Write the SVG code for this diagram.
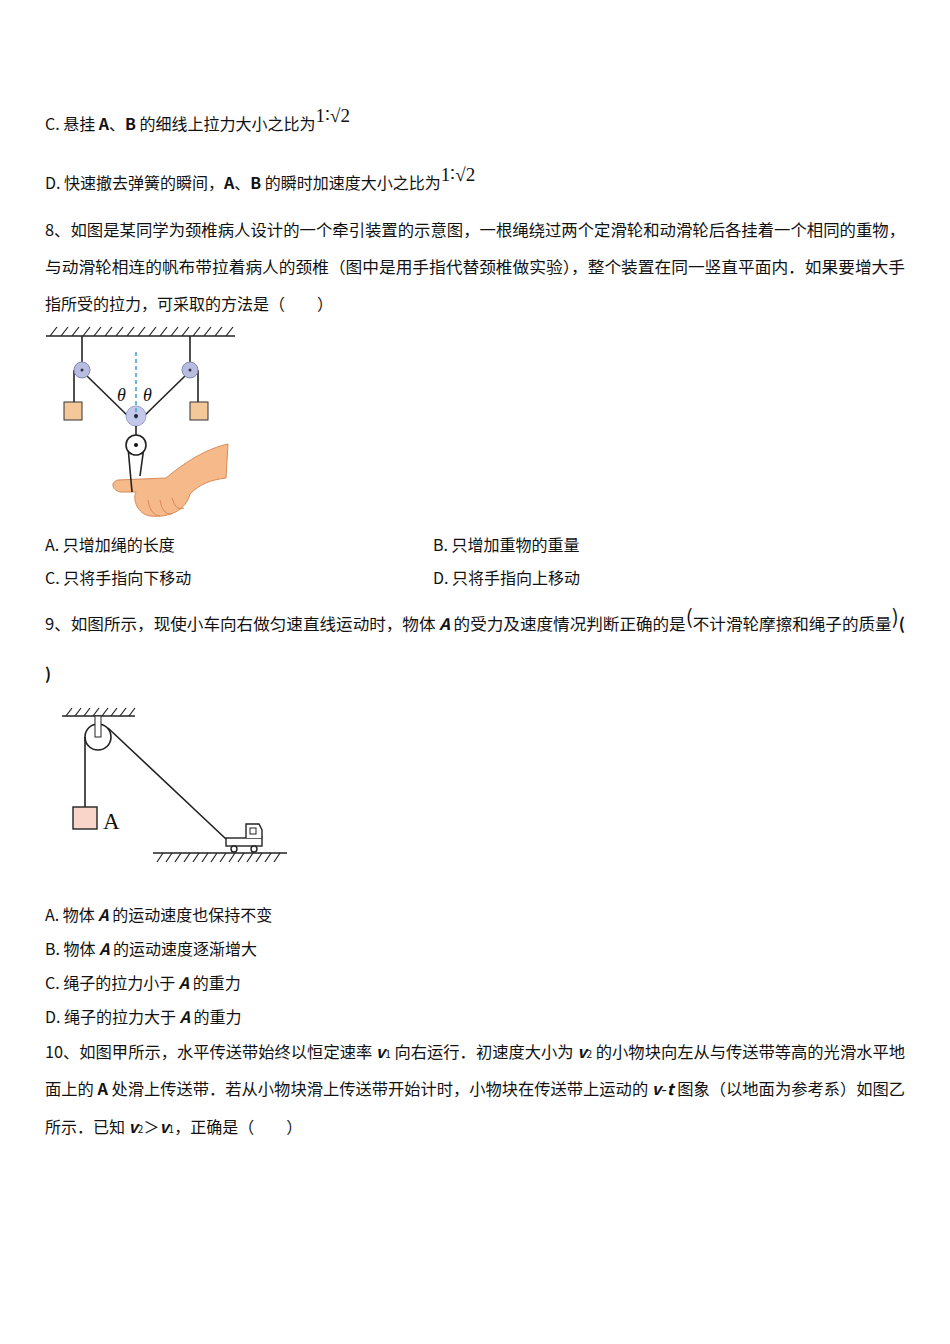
<svg xmlns="http://www.w3.org/2000/svg" width="950" height="1344" viewBox="0 0 950 1344">
<style>
text{font-family:"Noto Sans CJK SC","Liberation Serif",serif;font-size:16px;fill:#111}
.ser{font-family:"Liberation Serif",serif}
.ln{stroke:#222;stroke-width:1.6;fill:none}
.th{stroke:#222;stroke-width:1.2}
</style>
<rect width="950" height="1344" fill="#fff"/>
<g id="text">
<text x="45" y="130">C. 悬挂 <tspan font-weight="bold">A</tspan>、<tspan font-weight="bold">B</tspan> 的细线上拉力大小之比为<tspan class="ser" style="font-size:19px" dy="-8">1∶√2</tspan></text>
<text x="45" y="189">D. 快速撤去弹簧的瞬间，<tspan font-weight="bold">A</tspan>、<tspan font-weight="bold">B</tspan> 的瞬时加速度大小之比为<tspan class="ser" style="font-size:19px" dy="-8">1∶√2</tspan></text>
<text x="45" y="236" textLength="860" lengthAdjust="spacingAndGlyphs">8、如图是某同学为颈椎病人设计的一个牵引装置的示意图，一根绳绕过两个定滑轮和动滑轮后各挂着一个相同的重物，</text>
<text x="45" y="273" textLength="860" lengthAdjust="spacingAndGlyphs">与动滑轮相连的帆布带拉着病人的颈椎（图中是用手指代替颈椎做实验），整个装置在同一竖直平面内．如果要增大手</text>
<text x="45" y="310">指所受的拉力，可采取的方法是（　　）</text>
<text x="45" y="551">A. 只增加绳的长度</text>
<text x="433" y="551">B. 只增加重物的重量</text>
<text x="45" y="584">C. 只将手指向下移动</text>
<text x="433" y="584">D. 只将手指向上移动</text>
<text x="45" y="630" textLength="860" lengthAdjust="spacingAndGlyphs">9、如图所示，现使小车向右做匀速直线运动时，物体 <tspan font-style="italic" font-weight="bold">A</tspan> 的受力及速度情况判断正确的是<tspan style="font-size:20px" dy="-6">(</tspan><tspan dy="6">不计滑轮摩擦和绳子的质量</tspan><tspan style="font-size:20px" dy="-6">)</tspan><tspan font-weight="bold" dy="6">(</tspan></text>
<text x="45" y="680" font-weight="bold">)</text>
<text x="45" y="921">A. 物体 <tspan font-style="italic" font-weight="bold">A</tspan> 的运动速度也保持不变</text>
<text x="45" y="955">B. 物体 <tspan font-style="italic" font-weight="bold">A</tspan> 的运动速度逐渐增大</text>
<text x="45" y="989">C. 绳子的拉力小于 <tspan font-style="italic" font-weight="bold">A</tspan> 的重力</text>
<text x="45" y="1023">D. 绳子的拉力大于 <tspan font-style="italic" font-weight="bold">A</tspan> 的重力</text>
<text x="45" y="1058" textLength="860" lengthAdjust="spacingAndGlyphs">10、如图甲所示，水平传送带始终以恒定速率 <tspan font-style="italic" font-weight="bold">v</tspan><tspan style="font-size:10px">1</tspan> 向右运行．初速度大小为 <tspan font-style="italic" font-weight="bold">v</tspan><tspan style="font-size:10px">2</tspan> 的小物块向左从与传送带等高的光滑水平地</text>
<text x="45" y="1095" textLength="860" lengthAdjust="spacingAndGlyphs">面上的 <tspan font-weight="bold">A</tspan> 处滑上传送带．若从小物块滑上传送带开始计时，小物块在传送带上运动的 <tspan font-style="italic" font-weight="bold">v</tspan>-<tspan font-style="italic" font-weight="bold">t</tspan> 图象（以地面为参考系）如图乙</text>
<text x="45" y="1133">所示．已知 <tspan font-style="italic" font-weight="bold">v</tspan><tspan style="font-size:10px">2</tspan>＞<tspan font-style="italic" font-weight="bold">v</tspan><tspan style="font-size:10px">1</tspan>，正确是（　　）</text>
</g>
<g id="fig8">
<line class="ln" x1="46" y1="336" x2="235" y2="336"/>
<path class="th" d="M50 336l7-9M61 336l7-9M72 336l7-9M83 336l7-9M94 336l7-9M105 336l7-9M116 336l7-9M127 336l7-9M138 336l7-9M149 336l7-9M160 336l7-9M171 336l7-9M182 336l7-9M193 336l7-9M204 336l7-9M215 336l7-9M226 336l7-9"/>
<line class="ln" x1="82" y1="336" x2="82" y2="370"/>
<line class="ln" x1="190" y1="336" x2="190" y2="370"/>
<line class="ln" x1="74" y1="370" x2="74" y2="402"/>
<line class="ln" x1="198" y1="370" x2="198" y2="402"/>
<line class="ln" x1="86" y1="375" x2="130" y2="418"/>
<line class="ln" x1="186" y1="375" x2="142" y2="418"/>
<circle cx="82" cy="370" r="8" fill="#b8bde0" stroke="#8088b8"/>
<circle cx="82" cy="370" r="1.5" fill="#334"/>
<circle cx="190" cy="370" r="8" fill="#b8bde0" stroke="#8088b8"/>
<circle cx="190" cy="370" r="1.5" fill="#334"/>
<rect x="64" y="402" width="18" height="18" fill="#f5c89a" stroke="#333"/>
<rect x="190" y="402" width="18" height="18" fill="#f5c89a" stroke="#333"/>
<circle cx="136" cy="416" r="10" fill="#c4c8ea" stroke="#9aa0cc"/>
<line x1="136" y1="352" x2="136" y2="420" stroke="#3aa0d0" stroke-width="1.5" stroke-dasharray="4,3"/>
<circle cx="136" cy="416" r="2" fill="#223"/>
<text x="117" y="401" class="ser" style="font-style:italic;font-size:18px">θ</text>
<text x="143" y="401" class="ser" style="font-style:italic;font-size:18px">θ</text>
<line class="ln" x1="136" y1="426" x2="136" y2="435"/>
<path d="M166 478 C190 458 210 448 228 444 L226 478 C210 480 200 484 190 494 C186 510 170 518 150 516 C138 514 132 500 136 492 L120 492 C112 490 110 482 118 480 Z" fill="#f5b98a" stroke="#d88a5a"/>
<path d="M148 500 Q150 515 160 516 M160 500 Q162 515 172 514 M172 498 Q176 512 184 508" fill="none" stroke="#d88a5a"/>
<path class="ln" d="M128 447 L132 492 M144 447 L140 476"/>
<circle cx="136" cy="445" r="10" fill="#fff" stroke="#222" stroke-width="1.6"/>
<circle cx="136" cy="445" r="2" fill="#111"/>
</g>
<g id="fig9">
<line class="ln" x1="62" y1="716" x2="135" y2="716"/>
<path class="th" d="M66 716l6-8M75 716l6-8M84 716l6-8M93 716l6-8M102 716l6-8M111 716l6-8M120 716l6-8M129 716l6-8"/>
<circle cx="98" cy="737" r="13" fill="#fff" stroke="#222" stroke-width="1.6"/>
<rect x="95" y="716" width="6" height="21" fill="#fff" stroke="#222"/>
<line class="ln" x1="85" y1="737" x2="85" y2="807"/>
<line class="ln" x1="108" y1="728" x2="226" y2="839"/>
<rect x="73" y="807" width="24" height="22" fill="#f8d5c8" stroke="#222" stroke-width="1.4"/>
<text x="103" y="829" class="ser" style="font-size:23px">A</text>
<rect x="226" y="838" width="36" height="8" fill="#fff" stroke="#222" stroke-width="1.4"/>
<path d="M246 838 V824 H259 L262 830 V838" fill="#fff" stroke="#222" stroke-width="1.4"/>
<rect x="250" y="828" width="6" height="6" fill="none" stroke="#222"/>
<circle cx="234" cy="849" r="3" fill="#fff" stroke="#222" stroke-width="1.4"/>
<circle cx="254" cy="849" r="3" fill="#fff" stroke="#222" stroke-width="1.4"/>
<line class="ln" x1="153" y1="853" x2="287" y2="853"/>
<path class="th" d="M157 862l6-9M166 862l6-9M175 862l6-9M184 862l6-9M193 862l6-9M202 862l6-9M211 862l6-9M220 862l6-9M229 862l6-9M238 862l6-9M247 862l6-9M256 862l6-9M265 862l6-9M274 862l6-9"/>
</g>
</svg>
